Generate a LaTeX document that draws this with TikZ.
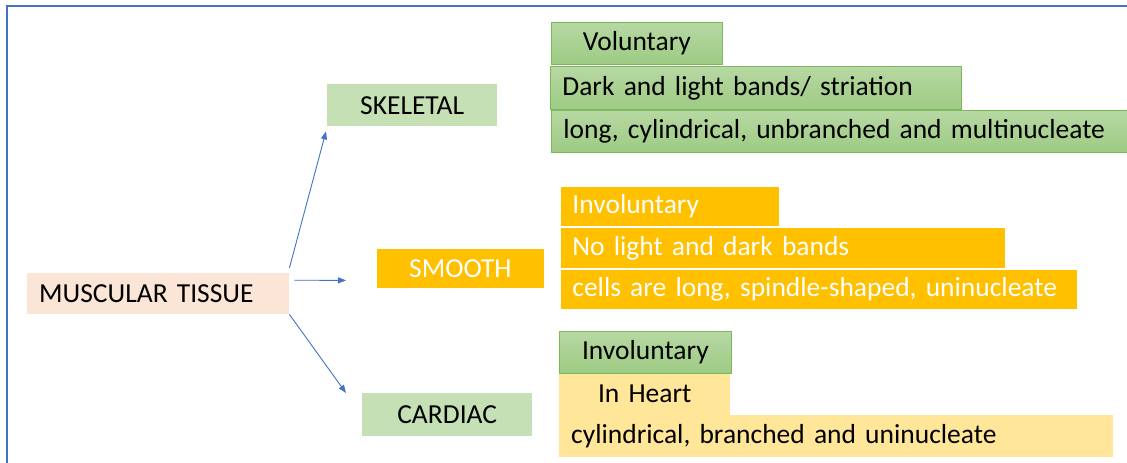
\documentclass[tikz,border=0pt]{standalone}
\usepackage{fontspec}
\setmainfont{Carlito}
\usetikzlibrary{arrows.meta,calc}
\definecolor{bl}{HTML}{4472C4}
\definecolor{lgreen}{HTML}{C5E0B4}
\definecolor{gtop}{HTML}{B7D8A3}
\definecolor{gbot}{HTML}{9DCB83}
\definecolor{gedge}{HTML}{7DB95C}
\definecolor{orng}{HTML}{FFC000}
\definecolor{lyel}{HTML}{FFE699}
\definecolor{peach}{HTML}{FBE5D6}
\tikzset{
  base/.style={anchor=north west, inner ysep=0pt, inner xsep=12pt, font=\fontsize{27.5}{32}\selectfont},
  cbox/.style={base, align=center},
  lbox/.style={base, align=left},
  gradg/.style={top color=gtop, bottom color=gbot, draw=gedge, line width=0.8pt},
  plaing/.style={fill=lgreen},
  orb/.style={fill=orng, draw=white, line width=0.8pt, text=white},
  yel/.style={fill=lyel},
  conn/.style={draw=bl, line width=0.9pt, -{Triangle[length=8pt,width=6pt]}}
}
\newcommand{\bx}[7]{% style, name, x1, y1, x2, y2, text
  \pgfmathsetlengthmacro{\bw}{#5-#3-24}
  \node[#1, text width=\bw, minimum height=#6-#4] (#2) at (#3,#4) {\raisebox{-1.5pt}{\mbox{#7}}};}
\begin{document}
\begin{tikzpicture}[x=1pt,y=-1pt]
\useasboundingbox (0,0) rectangle (1127,463);
\fill[white] (0,0) rectangle (1127,463);
\draw[bl, line width=1.6pt] (7,463) -- (7,6) -- (1127,6);
% skeletal
\bx{cbox,plaing}{sk}{327}{84}{497}{126}{SKELETAL}
\bx{cbox,gradg}{v1}{551}{22}{722}{64}{Voluntary}
\bx{lbox,gradg}{v2}{550}{66}{961}{109}{Dark and light bands/ striation}
\bx{lbox,gradg}{v3}{551}{110}{1127}{152}{long, cylindrical, unbranched and multinucleate}
% muscular
\bx{lbox,fill=peach}{mt}{27}{273}{289}{314}{MUSCULAR TISSUE}
% smooth
\bx{cbox,orb}{sm}{376}{248}{544}{288}{SMOOTH}
\bx{lbox,orb}{s1}{560}{186}{779}{226}{Involuntary}
\bx{lbox,orb}{s2}{560}{227}{1005}{268}{No light and dark bands}
\bx{lbox,orb}{s3}{560}{269}{1077}{309}{cells are long, spindle-shaped, uninucleate}
% cardiac
\bx{cbox,plaing}{ca}{362}{393}{532}{436}{CARDIAC}
\bx{cbox,yel}{c2}{559}{373}{730}{415}{In Heart}
\bx{lbox,yel}{c3}{559}{415}{1113}{457}{cylindrical, branched and uninucleate}
\bx{cbox,gradg}{c1}{559}{331}{731}{373}{Involuntary}
% connectors
\coordinate (a1) at ($(mt.north east)+(0,-5)$);
\coordinate (b1) at ($(sk.south west)+(-1,5)$);
\coordinate (a2) at ($(mt.east)+(5,-13.5)$);
\coordinate (b2) at ($(sm.west)+(-30,12)$);
\coordinate (a3) at ($(mt.south east)$);
\coordinate (b3) at ($(ca.north west)+(-16,0)$);
\draw[conn] (a1) -- (b1);
\draw[conn] (a2) -- (b2);
\draw[conn] (a3) -- (b3);
\end{tikzpicture}
\end{document}
